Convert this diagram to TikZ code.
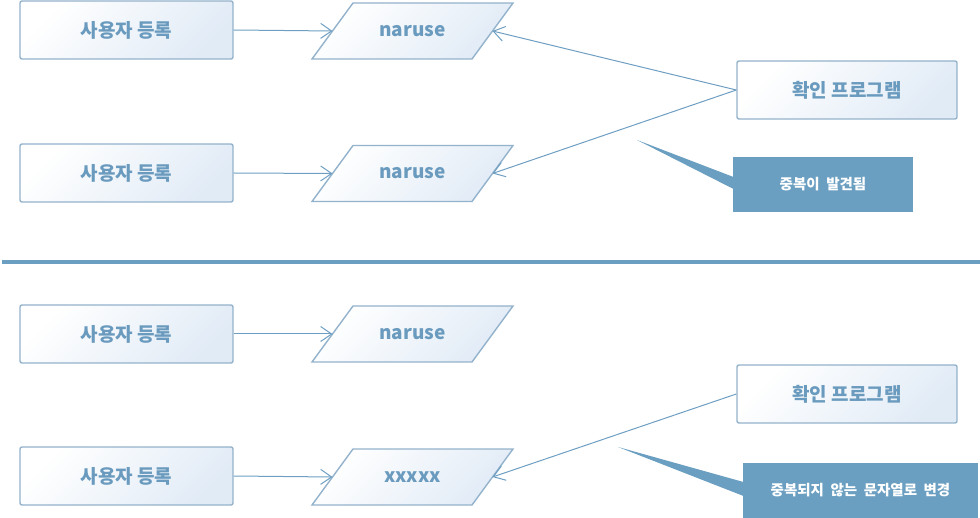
\documentclass[tikz,border=0pt]{standalone}
\usepackage{fontspec}
\newfontfamily\kr{Noto Sans CJK KR}
\usetikzlibrary{arrows.meta}
\definecolor{bordc}{HTML}{93B2CB}
\definecolor{linec}{HTML}{6E9FC3}
\definecolor{txtc}{HTML}{6A9BBE}
\definecolor{callc}{HTML}{6B9FC1}
\definecolor{shadec}{HTML}{E1EBF6}
\newcommand\dataitem[4]{%
  \path[datashape] (#2-100.5,#3+28) -- (#2-59.5,#3-28) -- (#2+100.5,#3-28) -- (#2+59.5,#3+28) -- cycle;
  \node[datatext] (#1) at (#2,#3) {#4};
  \coordinate (#1l) at (#2-80,#3);
  \coordinate (#1r) at (#2+80,#3);}
\newcommand\widesp[1]{{\spaceskip=0.45em\relax #1}}
\begin{document}
\begin{tikzpicture}[x=1pt,y=-1pt,
  procbox/.style={draw=bordc,line width=1.4pt,rounded corners=2pt,minimum width=213pt,minimum height=58pt,inner sep=0pt,
    top color=white,bottom color=shadec,shading angle=45,font=\kr\bfseries\fontsize{19}{22}\selectfont,text=txtc},
  chkbox/.style={procbox,minimum width=220pt},
  datashape/.style={draw=bordc,line width=1.4pt,top color=white,bottom color=shadec,shading angle=45},
  datatext/.style={inner sep=0pt,font=\kr\bfseries\fontsize{19}{22}\selectfont,text=txtc},
  conn/.style={draw=linec,line width=1pt,-{Straight Barb[length=11pt,width=15pt,line width=1pt]}},
  callbox/.style={fill=callc,text=white,inner sep=0pt,font=\kr\bfseries\fontsize{14.5}{17}\selectfont},
  sep/.style={draw=callc,line width=4pt}]
\useasboundingbox (0,0) rectangle (980,518);
% top section
\node[procbox] (b1) at (126.5,30) {사용자 등록};
\node[procbox] (b2) at (126.5,173) {사용자 등록};
\dataitem{p1}{412.5}{31}{naruse}
\dataitem{p2}{412.5}{173.5}{naruse}
\node[chkbox] (c1) at (847,90) {확인 프로그램};
\draw[conn] (b1.east) -- (p1l);
\draw[conn] (b2.east) -- (p2l);
\draw[conn] (c1.west) -- (p1r);
\draw[conn] (c1.west) -- (p2r);
\node[callbox,minimum width=180pt,minimum height=55pt] (r1) at (823,184.5) {\widesp{중복이 발견됨}};
\coordinate (t1) at (637,140);
\fill[callc] (t1) -- (733.5,177) -- (733.5,189) -- cycle;
% separator
\coordinate (s1) at (2,262);
\coordinate (s2) at (980,262);
\draw[sep] (s1) -- (s2);
% bottom section
\node[procbox] (b3) at (126.5,334) {사용자 등록};
\node[procbox] (b4) at (126.5,476) {사용자 등록};
\dataitem{p3}{412.5}{334}{naruse}
\dataitem{p4}{412.5}{477}{xxxxx}
\node[chkbox] (c2) at (847,394) {확인 프로그램};
\draw[conn] (b3.east) -- (p3l);
\draw[conn] (b4.east) -- (p4l);
\draw[conn] (c2.west) -- (p4r);
\node[callbox,minimum width=235pt,minimum height=55pt] (r2) at (860.5,490.5) {\widesp{중복되지 않는 문자열로 변경}};
\coordinate (t2) at (618,447);
\fill[callc] (t2) -- (743.5,482) -- (743.5,496) -- cycle;
\end{tikzpicture}
\end{document}
